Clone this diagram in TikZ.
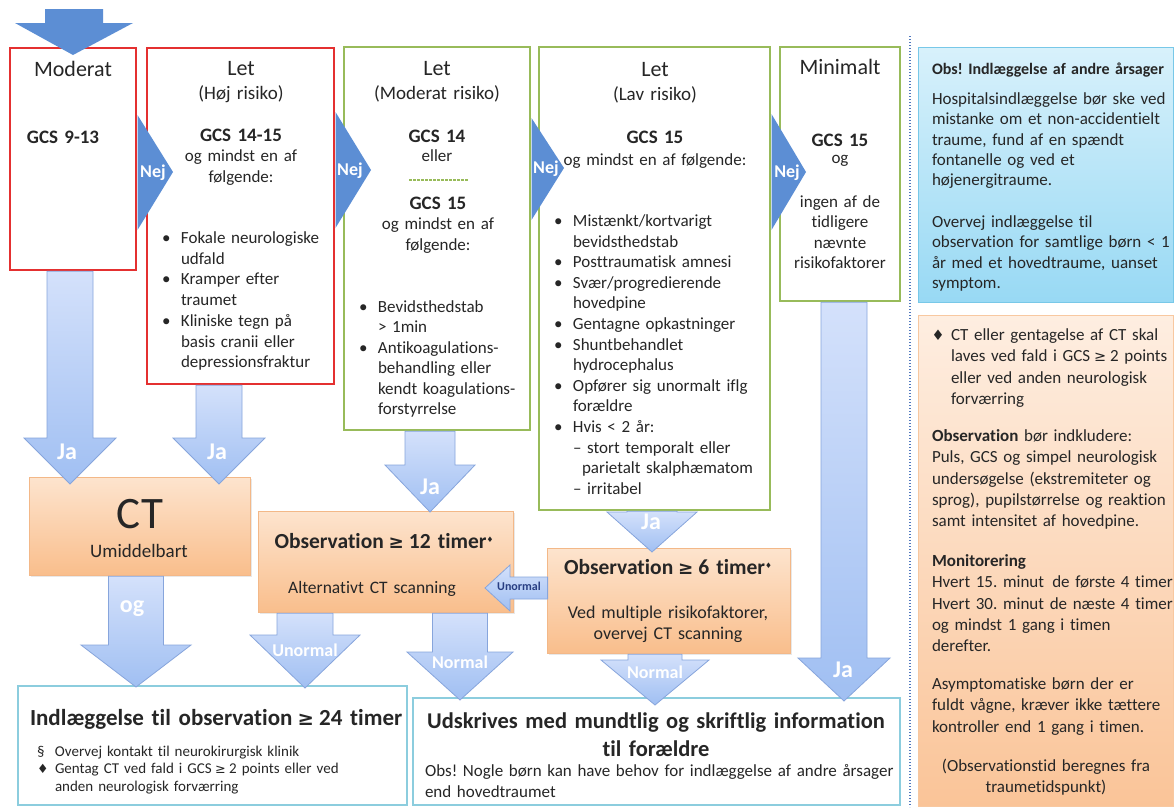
\documentclass[tikz,border=0pt]{standalone}
\usepackage{fontspec}
\setmainfont{Carlito}[Ligatures={TeX,NoCommon}]
\newfontfamily\symf{DejaVu Sans}[Scale=0.85]
\usetikzlibrary{calc,shadows}
\frenchspacing
\definecolor{redb}{RGB}{228,48,48}
\definecolor{greenb}{RGB}{152,187,90}
\definecolor{chev}{RGB}{92,142,212}
\definecolor{larrT}{RGB}{212,225,251}
\definecolor{larrB}{RGB}{160,191,242}
\definecolor{larrD}{RGB}{135,165,220}
\definecolor{orT}{RGB}{253,228,206}
\definecolor{orB}{RGB}{249,190,140}
\definecolor{orD}{RGB}{243,184,136}
\definecolor{cyT}{RGB}{216,241,251}
\definecolor{cyB}{RGB}{152,217,244}
\definecolor{cyD}{RGB}{120,200,232}
\definecolor{noteT}{RGB}{254,238,225}
\definecolor{noteB}{RGB}{250,196,152}
\definecolor{noteD}{RGB}{248,200,160}
\definecolor{botD}{RGB}{140,205,222}
\definecolor{txt}{RGB}{38,38,38}
\definecolor{navy}{RGB}{40,62,130}
\definecolor{dotc}{RGB}{80,120,190}
\newcommand\fsz[2]{\fontsize{#1}{#2}\selectfont}
\newcommand\gesym{\makebox[0.5em]{\symf ≥}}
\newcommand\dmd{{\symf ♦}}
\newcommand\supd{\raisebox{0.6ex}{\symf\fontsize{9}{9}\selectfont ♦}}
\newcommand\bul{\leavevmode\llap{\makebox[19pt][l]{•}}}
\newcommand\blockdown[6]{%
  \shadedraw[larr] let \p1=#1, \p2=#2 in
    (\x2-#3pt,\y1-1.2pt) -- (\x2+#3pt,\y1-1.2pt) -- (\x2+#3pt,\y2-#6pt+#5pt) -- (\x2+#4pt,\y2-#6pt+#5pt) -- (\x2,\y2-#6pt) -- (\x2-#4pt,\y2-#6pt+#5pt) -- (\x2-#3pt,\y2-#6pt+#5pt) -- cycle;}
\tikzset{
  boxbase/.style={inner sep=0pt, outer sep=0pt, anchor=north west},
  redbox/.style={boxbase, draw=redb, line width=2.4pt, fill=white},
  greenbox/.style={boxbase, draw=greenb, line width=2.4pt, fill=white},
  orbox/.style={boxbase, draw=orD, line width=0.8pt, top color=orT, bottom color=orB,
    drop shadow={opacity=0.18, shadow xshift=1.5pt, shadow yshift=-2pt}},
  infobox/.style={boxbase, draw=cyD, line width=1pt, top color=cyT, bottom color=cyB},
  notebox/.style={boxbase, draw=noteD, line width=1pt, top color=noteT, bottom color=noteB},
  endbox/.style={boxbase, draw=botD, line width=1.2pt, fill=white},
  larr/.style={draw=larrD, line width=0.8pt, top color=larrT, bottom color=larrB},
  t/.style={inner sep=0pt, outer sep=0pt, text=txt, font=\fsz{17}{20.7}, align=left, anchor=base west, text width=600pt},
  tc/.style={inner sep=0pt, outer sep=0pt, text=txt, font=\fsz{17}{20.7}, align=center, anchor=base, text width=300pt},
  hdr/.style={tc, font=\fsz{22}{26}},
  sub/.style={tc, font=\fsz{19}{23}},
  gcs/.style={tc, font=\bfseries\fsz{19}{23}},
  lbl/.style={inner sep=0pt, text=white, font=\bfseries\fsz{24}{28}, anchor=center},
  nej/.style={inner sep=0pt, text=white, font=\bfseries\fsz{18}{22}, anchor=center},
}
\begin{document}
\begin{tikzpicture}[x=1pt,y=-1pt]
\useasboundingbox (0,0) rectangle (1175,807);
\fill[white] (0,0) rectangle (1175,807);

% boxes
\node[redbox, minimum width=126pt, minimum height=222pt] (box1) at (10,48) {};
\node[redbox, minimum width=187pt, minimum height=336pt] (box2) at (147,48) {};
\node[greenbox, minimum width=186pt, minimum height=383pt] (box3) at (344,47) {};
\node[greenbox, minimum width=231pt, minimum height=463pt] (box4) at (539,47) {};
\node[greenbox, minimum width=120pt, minimum height=254pt] (box5) at (780,47) {};
\node[infobox, minimum width=255pt, minimum height=255pt] (info) at (918,47) {};
\node[notebox, minimum width=255pt, minimum height=491pt] (note) at (918,315) {};
\node[orbox, minimum width=221pt, minimum height=98pt] (ct) at (29,477) {};
\node[orbox, minimum width=255pt, minimum height=101pt] (obs12) at (258,511) {};
\node[orbox, minimum width=243pt, minimum height=105pt] (obs6) at (547,548) {};
\node[endbox, minimum width=389pt, minimum height=119pt] (adm) at (18,686) {};
\node[endbox, minimum width=487pt, minimum height=107pt] (dis) at (413,698) {};

% separator
\draw[dotc, line width=2.2pt, dash pattern=on 1.4pt off 1.6pt] (910,36) -- (910,807);

% light block arrows
\blockdown{(box1.south -| 70,0)}{(ct.north -| 70,0)}{23}{46}{46}{7}
\blockdown{(box2.south -| 219,0)}{(ct.north -| 219,0)}{23}{46}{46}{7}
\blockdown{(box3.south -| 430,0)}{(obs12.north -| 430,0)}{25}{45}{47}{1}
\blockdown{(box4.south -| 652,0)}{(obs6.north -| 652,0)}{25}{45}{40}{4}
\blockdown{(ct.south -| 136,0)}{(adm.north -| 136,0)}{27.5}{55}{42}{1}
\blockdown{(obs12.south -| 305,0)}{(adm.north -| 305,0)}{28}{55}{53}{2}
\blockdown{(obs12.south -| 460,0)}{(dis.north -| 460,0)}{27.5}{53}{48}{2}
\blockdown{(obs6.south -| 655,0)}{(dis.north -| 655,0)}{27}{54}{45}{7}
\blockdown{(box5.south -| 844,0)}{(dis.north -| 844,0)}{23}{46}{43}{3}
\shadedraw[larr] let \p1=(obs6.west |- 0,588), \p2=(obs12.east |- 0,588) in
  (\x1+0.6pt,\y1+11pt) -- (\x2-3pt,\y1+11pt) -- (\x2-3pt,\y1+23pt) -- (\x2-28pt,\y1) -- (\x2-3pt,\y1-23pt) -- (\x2-3pt,\y1-11pt) -- (\x1+0.6pt,\y1-11pt) -- cycle;

% chevrons and entry arrow
\fill[chev] (45,9) -- (103,9) -- (103,23) -- (133,23) -- (73,55) -- (15,23) -- (45,23) -- cycle;
\fill[chev] (137.5,115) -- (173,172) -- (137.5,230) -- cycle;
\fill[chev] (335.5,112) -- (371,170) -- (335.5,228) -- cycle;
\fill[chev] (531.5,118) -- (564,168) -- (531.5,220) -- cycle;
\fill[chev] (771.5,114) -- (806,172) -- (771.5,230) -- cycle;
\node[nej] (nej1) at (153,173) {Nej};
\node[nej] (nej2) at (350,171) {Nej};
\node[nej] (nej3) at (546,169) {Nej};
\node[nej] (nej4) at (787,173) {Nej};

% box 1
\node[hdr] (m1) at (73,76.5) {Moderat};
\node[gcs] (m2) at (63,143) {GCS 9-13};

% box 2
\node[hdr] (h1) at (241,75) {Let};
\node[sub] (h2) at (241,99.5) {(Høj risiko)};
\node[gcs] (h3) at (241,141) {GCS 14-15};
\node[tc] (h4) at (241,161.5) {og mindst en af\\følgende:};
\node[t] (h5) at (181,243.5) {\bul Fokale neurologiske\\udfald\\\bul Kramper efter\\traumet\\\bul Kliniske tegn på\\basis cranii eller\\depressionsfraktur};

% box 3
\node[hdr] (k1) at (437,75.5) {Let};
\node[sub] (k2) at (437,99.5) {(Moderat risiko)};
\node[gcs] (k3) at (437,142) {GCS 14};
\node[tc] (k4) at (437,161.5) {eller};
\draw[greenb, line width=1.3pt, dash pattern=on 2.5pt off 1.5pt] (409,180) -- (468,180);
\node[gcs] (k5) at (438,209) {GCS 15};
\node[tc] (k6) at (438,229.5) {og mindst en af\\følgende:};
\node[t, font=\fsz{17}{20.4}] (k7) at (378,312.5) {\bul Bevidsthedstab\\> 1min\\\bul Antikoagulations-\\behandling eller\\kendt koagulations-\\forstyrrelse};

% box 4
\node[hdr] (l1) at (655,76.5) {Let};
\node[sub] (l2) at (655,100.5) {(Lav risiko)};
\node[gcs] (l3) at (655,143) {GCS 15};
\node[tc] (l4) at (655,165.5) {og mindst en af følgende:};
\node[t, font=\fsz{17}{20.6}] (l5) at (573,226.5) {\bul Mistænkt/kortvarigt\\bevidsthedstab\\\bul Posttraumatisk amnesi\\\bul Svær/progredierende\\hovedpine\\\bul Gentagne opkastninger\\\bul Shuntbehandlet\\hydrocephalus\\\bul Opfører sig unormalt iflg\\forældre\\\bul Hvis < 2 år:\\– stort temporalt eller\\\hspace*{9pt}parietalt skalphæmatom\\– irritabel};

% box 5
\node[hdr] (n1) at (840,74.5) {Minimalt};
\node[gcs] (n2) at (840,146) {GCS 15};
\node[tc] (n3) at (840,163.5) {og};
\node[tc, font=\fsz{17}{20.3}] (n4) at (840,207.5) {ingen af de\\tidligere\\nævnte\\risikofaktorer};

% info box
\node[t, font=\bfseries\fsz{16}{20}] (i1) at (932,74) {Obs! Indlæggelse af andre årsager};
\node[t, font=\fsz{17}{20.3}] (i2) at (932,104.5) {Hospitalsindlæggelse bør ske ved\\mistanke om et non-accidentielt\\traume, fund af en spændt\\fontanelle og ved et\\højenergitraume.};
\node[t, font=\fsz{17}{20.3}] (i3) at (932,227.5) {Overvej indlæggelse til\\observation for samtlige børn < 1\\år med et hovedtraume, uanset\\symptom.};

% note box
\node[inner sep=0pt, text=txt, font=\fsz{17}{20}, anchor=base] (o0) at (938,340.5) {\dmd};
\node[t, font=\fsz{17}{21.3}] (o1) at (951,340.5) {CT eller gentagelse af CT skal\\laves ved fald i GCS \gesym{} 2 points\\eller ved anden neurologisk\\forværring};
\node[t, font=\fsz{17}{21.3}] (o2) at (932,441.5) {\textbf{Observation} bør indkludere:\\Puls, GCS og simpel neurologisk\\undersøgelse (ekstremiteter og\\sprog), pupilstørrelse og reaktion\\samt intensitet af hovedpine.};
\node[t, font=\fsz{17}{21.3}] (o3) at (932,566.5) {\textbf{Monitorering}\\Hvert 15. minut\hspace{0.15em} de første 4 timer\\Hvert 30. minut de næste 4 timer\\og mindst 1 gang i timen\\derefter.};
\node[t, font=\fsz{17}{21.3}] (o4) at (932,689.5) {Asymptomatiske børn der er\\fuldt vågne, kræver ikke tættere\\kontroller end 1 gang i timen.};
\node[tc, font=\fsz{17}{21.3}] (o5) at (1046,771.5) {(Observationstid beregnes fra\\traumetidspunkt)};

% CT and observation boxes
\node[tc, font=\fsz{45}{50}] (c1) at (140,528) {CT};
\node[tc, font=\fsz{19}{23}] (c2) at (139,557.5) {Umiddelbart};
\node[tc, font=\bfseries\fsz{21.5}{26}] (p1) at (384,548.5) {Observation \gesym{} 12 timer\supd};
\node[tc, font=\fsz{17.5}{21}] (p2) at (372,593) {Alternativt CT scanning};
\node[tc, font=\bfseries\fsz{21.5}{26}] (q1) at (668,574.5) {Observation \gesym{} 6 timer\supd};
\node[tc, font=\fsz{18}{21}] (q2) at (668,618) {Ved multiple risikofaktorer,\\overvej CT scanning};

% end boxes
\node[t, font=\bfseries\fsz{23}{28}] (a1) at (30,725) {Indlæggelse til observation \gesym{} 24 timer};
\node[t, font=\fsz{15}{17.5}] (a2) at (55,756) {\leavevmode\llap{\makebox[18pt][l]{§}}Overvej kontakt til neurokirurgisk klinik\\\leavevmode\llap{\makebox[18pt][l]{\dmd}}Gentag CT ved fald i GCS \gesym{} 2 points eller ved\\anden neurologisk forværring};
\node[tc, font=\bfseries\fsz{22.5}{28}, text width=480pt] (u1) at (656,728) {Udskrives med mundtlig og skriftlig information\\til forældre};
\node[t, font=\fsz{17}{20.5}] (u2) at (425,776.5) {Obs! Nogle børn kan have behov for indlæggelse af andre årsager\\end hovedtraumet};

% arrow labels
\node[lbl] (ja1) at (67,452) {Ja};
\node[lbl] (ja2) at (217,452) {Ja};
\node[lbl] (ja3) at (430,487) {Ja};
\node[lbl] (ja4) at (651,522) {Ja};
\node[lbl] (og) at (132,609) {og};
\node[lbl, font=\bfseries\fsz{18}{22}] (un1) at (305,650) {Unormal};
\node[lbl, font=\bfseries\fsz{18}{22}] (no1) at (460,662) {Normal};
\node[lbl, font=\bfseries\fsz{18}{22}] (no2) at (655,672) {Normal};
\node[lbl] (ja5) at (843,670) {Ja};
\node[inner sep=0pt, text=navy, font=\bfseries\fsz{12}{14}] (un2) at (519,586) {Unormal};
\end{tikzpicture}
\end{document}
